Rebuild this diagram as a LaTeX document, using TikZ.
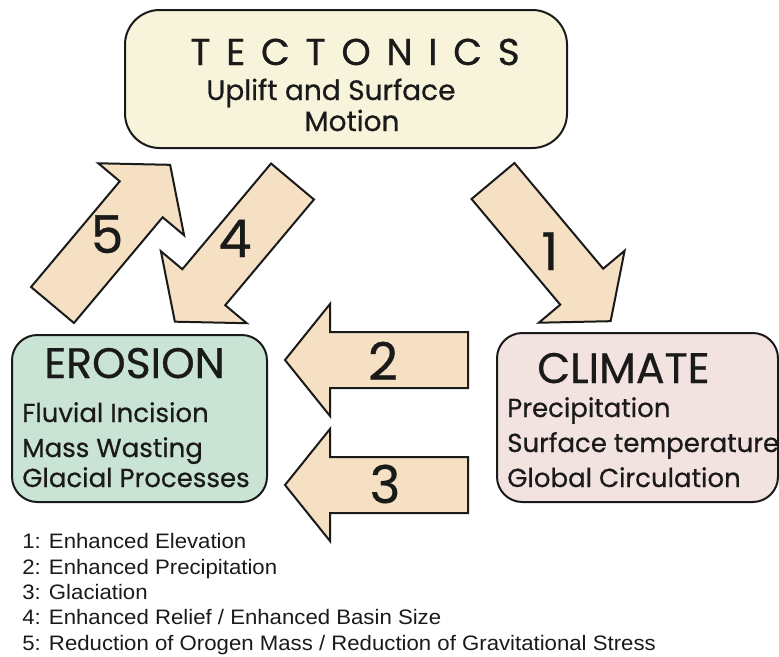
\documentclass[tikz,border=0pt]{standalone}
\usepackage{fontspec}
\setmainfont{Liberation Sans}
\newfontfamily\geo{Poppins}[FakeBold=0.6]
\newfontfamily\legendfont{Liberation Sans}[FakeStretch=1.06]
\definecolor{outline}{HTML}{1A1A1A}
\definecolor{tectfill}{HTML}{F8F4DC}
\definecolor{erofill}{HTML}{C9E3D5}
\definecolor{climfill}{HTML}{F2E2E0}
\definecolor{arrowfill}{HTML}{F5E0C3}
\newcommand\feedarrow[4]{%
  \begin{scope}[shift={(#1,#2)}, rotate=#3]
    \draw[bigarrow] (0,-28) -- (138,-28) -- (138,-56) -- (183,0) -- (138,56) -- (138,28) -- (0,28) -- cycle;
  \end{scope}}
\begin{document}
\begin{tikzpicture}[x=0.75pt,y=-0.75pt,
  box/.style={draw=outline, line width=1.5pt, inner sep=0pt},
  bigarrow/.style={draw=outline, line width=1.5pt, fill=arrowfill, line join=miter},
  title/.style={anchor=base west, inner sep=0pt, font=\geo\fontsize{32pt}{36pt}\selectfont, text=outline},
  item/.style={anchor=base west, inner sep=0pt, font=\geo\fontsize{19.5pt}{23pt}\selectfont, text=outline},
  sub/.style={anchor=base, inner sep=0pt, font=\geo\fontsize{21pt}{24pt}\selectfont, text=outline},
  digit/.style={anchor=base, inner sep=0pt, font=\geo\fontsize{39pt}{44pt}\selectfont, text=outline},
  legend/.style={anchor=base west, inner sep=0pt, font=\legendfont\fontsize{15.7pt}{18pt}\selectfont, text=outline}]
\useasboundingbox (0,0) rectangle (779,657);
\clip (0,0) rectangle (779,657);
% boxes
\node[box, fill=tectfill, rounded corners=26pt, minimum width=331.5pt, minimum height=103.5pt] (tect) at (346,79) {};
\node[box, fill=erofill, rounded corners=19pt, minimum width=191.25pt, minimum height=125.25pt] (ero) at (139.5,418.5) {};
\node[box, fill=climfill, rounded corners=19pt, minimum width=210.75pt, minimum height=126.75pt] (clim) at (637.5,417.5) {};
% arrows
\feedarrow{493}{181}{-50}{1}
\feedarrow{468}{360}{180}{2}
\feedarrow{468}{485}{180}{3}
\feedarrow{292.5}{181.5}{230}{4}
\feedarrow{52.5}{305}{50}{5}
% tectonics text
\node[anchor=base, inner sep=0pt, text=outline, font=\geo\fontsize{28pt}{34pt}\addfontfeature{LetterSpace=42}\selectfont] (tt) at (355,65) {TECTONICS};
\node[sub] (t1) at (331,100) {Uplift and Surface};
\node[sub] (t2) at (352,131) {Motion};
% erosion text
\node[title] (et) at (44,378) {EROSION};
\node[item] (e1) at (22,422) {Fluvial Incision};
\node[item] (e2) at (22,457) {Mass Wasting};
\node[item] (e3) at (22,487) {Glacial Processes};
% climate text
\node[title] (ct) at (537,383) {CLIMATE};
\node[item] (c1) at (507,417) {Precipitation};
\node[item] (c2) at (507,452) {Surface temperature};
\node[item] (c3) at (507,487) {Global Circulation};
% digits
\node[digit] (d1) at (550,270) {1};
\node[digit] (d2) at (383,380) {2};
\node[digit] (d3) at (385,503) {3};
\node[digit] (d4) at (235,257) {4};
\node[digit] (d5) at (107,253) {5};
% legend
\node[legend] (l1) at (22,548) {1: Enhanced Elevation};
\node[legend] (l2) at (22,574) {2: Enhanced Precipitation};
\node[legend] (l3) at (22,599) {3: Glaciation};
\node[legend] (l4) at (22,624) {4: Enhanced Relief / Enhanced Basin Size};
\node[legend] (l5) at (22,650) {5: Reduction of Orogen Mass / Reduction of Gravitational Stress};
\end{tikzpicture}
\end{document}
